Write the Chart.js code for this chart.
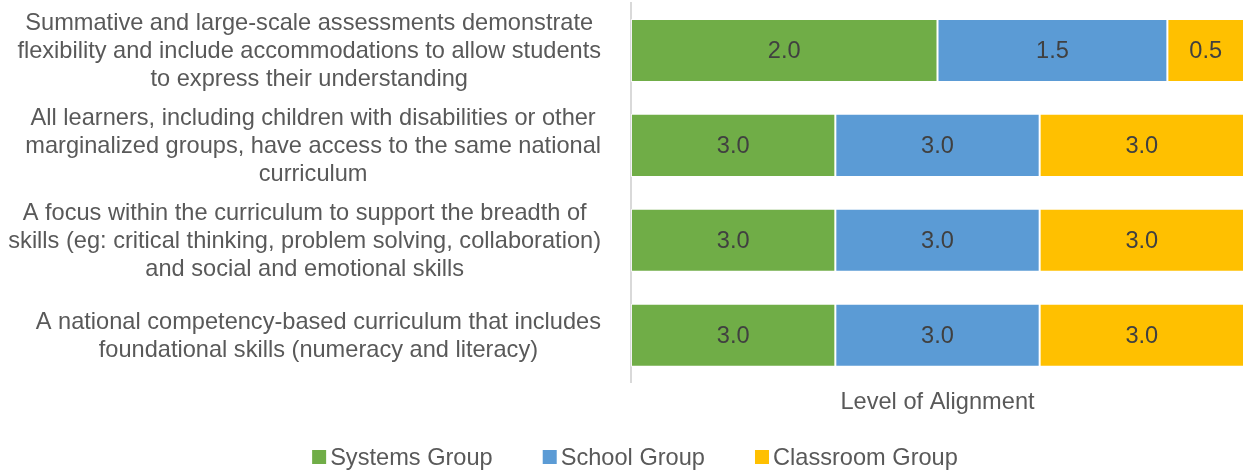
<!DOCTYPE html>
<html lang="en">
<head>
<meta charset="UTF-8">
<title>Level of Alignment</title>
<script src="https://cdn.jsdelivr.net/npm/chart.js@4.4.0/dist/chart.umd.min.js"></script>
<style>
  html, body { margin: 0; padding: 0; background: #fff; }
  #chart { display: block; }
</style>
</head>
<body>
<canvas id="chart" width="1246" height="471"></canvas>
<script>
// categories, top to bottom, already broken into lines
const categories = [
  ['Summative and large-scale assessments demonstrate', 'flexibility and include accommodations to allow students', 'to express their understanding'],
  ['All learners, including children with disabilities or other', 'marginalized groups, have access to the same national', 'curriculum'],
  ['A focus within the curriculum to support the breadth of', 'skills (eg: critical thinking, problem solving, collaboration)', 'and social and emotional skills'],
  ['A national competency-based curriculum that includes', 'foundational skills (numeracy and literacy)']
];
const seriesNames = ['Systems Group', 'School Group', 'Classroom Group'];
const systemsGroup = [2.0, 3.0, 3.0, 3.0];
const schoolGroup = [1.5, 3.0, 3.0, 3.0];
const classroomGroup = [0.5, 3.0, 3.0, 3.0];
const axisTitle = 'Level of Alignment';

const colors = ['#70AD47', '#5B9BD5', '#FFC000'];
const textGray = '#595959';
const fontFamily = '"Liberation Sans", Arial, sans-serif';
const fontSize = 23.6;

// 100% stacked: each bar fills the width, labels keep the raw score
const rawSeries = [systemsGroup, schoolGroup, classroomGroup];
const totals = categories.map((_, i) => rawSeries.reduce((s, arr) => s + arr[i], 0));
const toPct = arr => arr.map((v, i) => v / totals[i] * 100);

const datasets = rawSeries.map((arr, k) => ({
  label: seriesNames[k],
  data: toPct(arr),
  raw: arr,
  backgroundColor: colors[k],
  borderColor: 'rgba(255,255,255,0.7)',
  borderWidth: 1,
  borderSkipped: false,
  barPercentage: 1,
  categoryPercentage: 0.665
}));

// raw value in the middle of every segment
const valueLabels = {
  id: 'valueLabels',
  afterDatasetsDraw(chart) {
    const ctx = chart.ctx;
    ctx.save();
    ctx.font = fontSize + 'px ' + fontFamily;
    ctx.fillStyle = '#404040';
    ctx.textAlign = 'center';
    ctx.textBaseline = 'middle';
    chart.data.datasets.forEach((ds, di) => {
      chart.getDatasetMeta(di).data.forEach((bar, i) => {
        const p = bar.getCenterPoint();
        ctx.fillText(ds.raw[i].toFixed(1), p.x, p.y + 1);
      });
    });
    ctx.restore();
  }
};

// category labels: each wrapped block right-aligned, its lines centred (office style)
const categoryLabels = {
  id: 'categoryLabels',
  afterDraw(chart) {
    const ctx = chart.ctx;
    const yScale = chart.scales.y;
    const blockRight = yScale.right - 30, lineH = 28;
    ctx.save();
    ctx.font = fontSize + 'px ' + fontFamily;
    ctx.fillStyle = textGray;
    ctx.textAlign = 'center';
    ctx.textBaseline = 'middle';
    categories.forEach((lines, i) => {
      const yc = yScale.getPixelForTick(i) + 1;
      const widest = Math.max(...lines.map(l => ctx.measureText(l).width));
      const xc = blockRight - widest / 2;
      lines.forEach((l, j) => {
        ctx.fillText(l, xc, yc + (j - (lines.length - 1) / 2) * lineH);
      });
    });
    ctx.restore();
  }
};

// legend row: small square, tight gap, wide spacing
const bottomLegend = {
  id: 'bottomLegend',
  afterDraw(chart) {
    const ctx = chart.ctx;
    const box = 14, gap = 4, spacing = 50;
    ctx.save();
    ctx.font = fontSize + 'px ' + fontFamily;
    const widths = seriesNames.map(n => ctx.measureText(n).width);
    const total = widths.reduce((s, w) => s + w + box + gap, 0) + spacing * (seriesNames.length - 1);
    let x = chart.width / 2 + 12 - total / 2;
    const y = 457;
    ctx.textBaseline = 'middle';
    ctx.textAlign = 'left';
    seriesNames.forEach((n, k) => {
      ctx.fillStyle = colors[k];
      ctx.fillRect(x, y - box / 2, box, box);
      ctx.fillStyle = textGray;
      ctx.fillText(n, x + box + gap, y + 1);
      x += box + gap + widths[k] + spacing;
    });
    ctx.restore();
  }
};

new Chart(document.getElementById('chart'), {
  type: 'bar',
  data: { labels: categories, datasets: datasets },
  options: {
    indexAxis: 'y',
    responsive: false,
    animation: false,
    layout: { padding: { top: 3, right: 2, left: 0, bottom: 54 } },
    scales: {
      x: {
        stacked: true,
        min: 0,
        max: 100,
        grid: { display: false, drawTicks: false },
        border: { display: false },
        ticks: { display: false },
        title: {
          display: true,
          text: axisTitle,
          color: textGray,
          font: { family: fontFamily, size: fontSize },
          padding: { top: 6, bottom: 0 }
        }
      },
      y: {
        stacked: true,
        grid: { display: false, drawTicks: false },
        border: { display: true, color: '#D9D9D9', width: 2 },
        ticks: { display: false },
        afterFit(scale) {
          scale.width = 631;
          scale.paddingTop = 0;
          scale.paddingBottom = 0;
        }
      }
    },
    plugins: {
      legend: { display: false },
      tooltip: { enabled: false }
    }
  },
  plugins: [valueLabels, categoryLabels, bottomLegend]
});
</script>
</body>
</html>
